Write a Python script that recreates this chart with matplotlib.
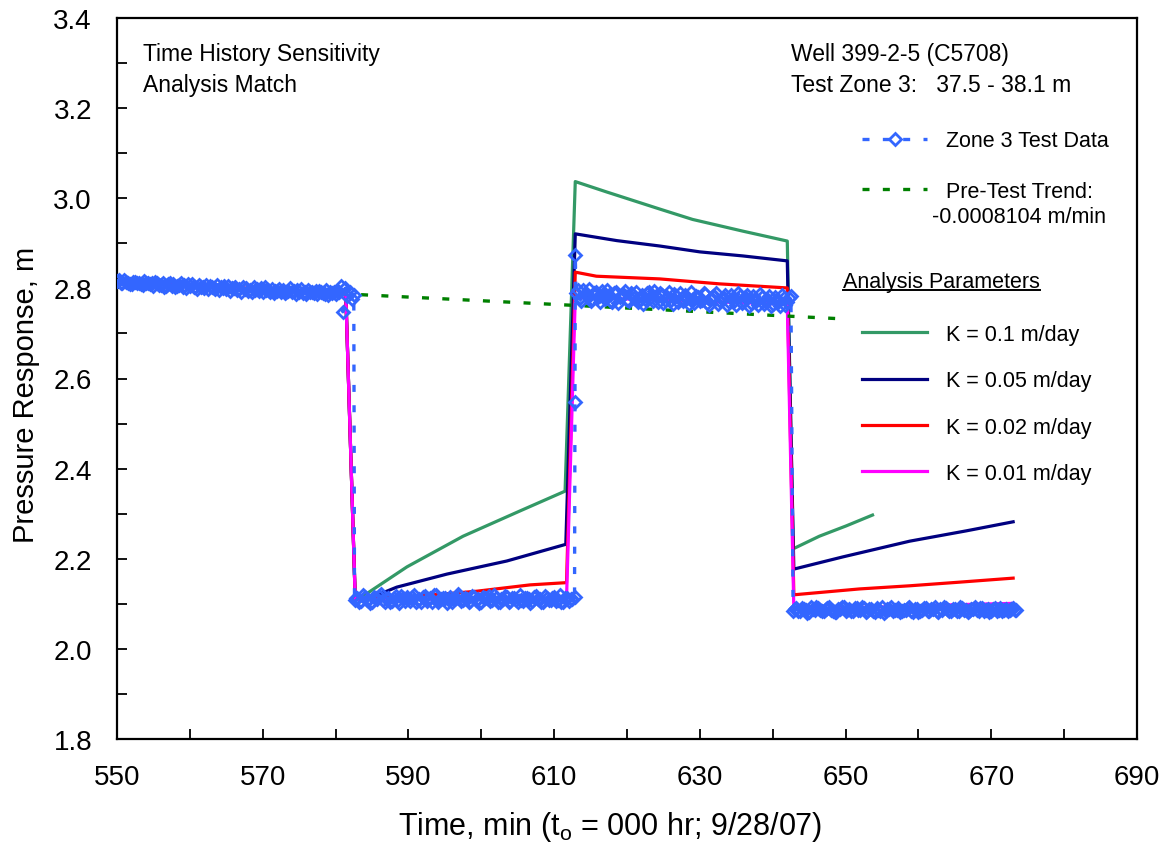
import matplotlib
matplotlib.use("Agg")
import matplotlib.pyplot as plt
from matplotlib.lines import Line2D
from matplotlib.ticker import MultipleLocator, FormatStrFormatter
import numpy as np

plt.rcParams['font.family'] = ['Liberation Sans', 'DejaVu Sans']
plt.rcParams['mathtext.fontset'] = 'custom'
plt.rcParams['mathtext.rm'] = 'Liberation Sans'

# --- Zone 3 test data (time, min ; pressure response, m) ---
pre_t = [550.0, 550.5, 551.0, 551.5, 552.0, 552.5, 553.0, 553.5, 554.0, 554.5,
         555.0, 555.5, 556.0, 556.5, 557.0, 557.5, 558.0, 558.5, 559.0, 559.5,
         560.0, 560.5, 561.0, 561.5, 562.0, 562.5, 563.0, 563.5, 564.0, 564.5,
         565.0, 565.5, 566.0, 566.5, 567.0, 567.5, 568.0, 568.5, 569.0, 569.5,
         570.0, 570.5, 571.0, 571.5, 572.0, 572.5, 573.0, 573.5, 574.0, 574.5,
         575.0, 575.5, 576.0, 576.5, 577.0, 577.5, 578.0, 578.5, 579.0, 579.5,
         580.0, 580.5, 580.8, 581.0, 581.3, 581.6, 582.0, 582.3, 582.5]
pre_p = [2.816, 2.812, 2.818, 2.813, 2.809, 2.815, 2.811, 2.807, 2.813, 2.810,
         2.806, 2.811, 2.808, 2.804, 2.809, 2.806, 2.802, 2.808, 2.804, 2.801,
         2.806, 2.803, 2.799, 2.804, 2.801, 2.798, 2.803, 2.799, 2.796, 2.801,
         2.798, 2.795, 2.800, 2.797, 2.793, 2.798, 2.795, 2.792, 2.797, 2.794,
         2.791, 2.796, 2.793, 2.790, 2.795, 2.792, 2.789, 2.794, 2.791, 2.788,
         2.793, 2.790, 2.788, 2.792, 2.789, 2.787, 2.791, 2.788, 2.786, 2.790,
         2.787, 2.791, 2.805, 2.748, 2.800, 2.783, 2.792, 2.776, 2.786]
pre_tb = [550.25, 550.75, 551.25, 551.75, 552.25, 552.75, 553.25, 553.75, 554.25, 554.75,
          555.25, 555.75, 556.25, 556.75, 557.25, 557.75, 558.25, 558.75, 559.25, 559.75,
          560.25, 560.75, 561.25, 561.75, 562.25, 562.75, 563.25, 563.75, 564.25, 564.75,
          565.25, 565.75, 566.25, 566.75, 567.25, 567.75, 568.25, 568.75, 569.25, 569.75,
          570.25, 570.75, 571.25, 571.75, 572.25, 572.75, 573.25, 573.75, 574.25, 574.75,
          575.25, 575.75, 576.25, 576.75, 577.25, 577.75, 578.25, 578.75, 579.25, 579.75,
          580.25]
pre_pb = [2.818, 2.812, 2.815, 2.810, 2.815, 2.813, 2.809, 2.816, 2.811, 2.813,
          2.814, 2.808, 2.811, 2.806, 2.811, 2.809, 2.805, 2.812, 2.807, 2.809,
          2.810, 2.804, 2.807, 2.802, 2.807, 2.805, 2.801, 2.808, 2.803, 2.805,
          2.806, 2.800, 2.803, 2.798, 2.803, 2.801, 2.797, 2.804, 2.799, 2.801,
          2.802, 2.796, 2.799, 2.794, 2.799, 2.797, 2.793, 2.800, 2.795, 2.797,
          2.798, 2.792, 2.797, 2.791, 2.795, 2.794, 2.790, 2.796, 2.791, 2.793,
          2.794]

ext1_t = [582.6, 583.0, 583.5, 584.0, 584.5, 585.0, 585.5, 586.0, 586.5, 587.0,
          587.5, 588.0, 588.5, 589.0, 589.5, 590.0, 590.5, 591.0, 591.5, 592.0,
          592.5, 593.0, 593.5, 594.0, 594.5, 595.0, 595.5, 596.0, 596.5, 597.0,
          597.5, 598.0, 598.5, 599.0, 599.5, 600.0, 600.5, 601.0, 601.5, 602.0,
          602.5, 603.0, 603.5, 604.0, 604.5, 605.0, 605.5, 606.0, 606.5, 607.0,
          607.5, 608.0, 608.5, 609.0, 609.5, 610.0, 610.5, 611.0, 611.5, 612.0,
          612.5, 612.8]
ext1_p = [2.108, 2.112, 2.106, 2.115, 2.109, 2.104, 2.113, 2.117, 2.108, 2.111,
          2.103, 2.114, 2.109, 2.118, 2.106, 2.111, 2.115, 2.104, 2.110, 2.116,
          2.107, 2.112, 2.119, 2.105, 2.110, 2.114, 2.108, 2.103, 2.113, 2.117,
          2.109, 2.111, 2.106, 2.115, 2.110, 2.104, 2.112, 2.118, 2.108, 2.113,
          2.105, 2.110, 2.116, 2.107, 2.112, 2.103, 2.109, 2.114, 2.111, 2.106,
          2.117, 2.110, 2.104, 2.113, 2.108, 2.115, 2.109, 2.105, 2.112, 2.107,
          2.111, 2.116]
ext1_tb = [582.75, 583.25, 583.75, 584.25, 584.75, 585.25, 585.75, 586.25, 586.75, 587.25,
           587.75, 588.25, 588.75, 589.25, 589.75, 590.25, 590.75, 591.25, 591.75, 592.25,
           592.75, 593.25, 593.75, 594.25, 594.75, 595.25, 595.75, 596.25, 596.75, 597.25,
           597.75, 598.25, 598.75, 599.25, 599.75, 600.25, 600.75, 601.25, 601.75, 602.25,
           602.75, 603.25, 603.75, 604.25, 604.75, 605.25, 605.75, 606.25, 606.75, 607.25,
           607.75, 608.25, 608.75, 609.25, 609.75, 610.25, 610.75, 611.25, 611.75, 612.25]
ext1_pb = [2.114, 2.105, 2.119, 2.108, 2.102, 2.116, 2.110, 2.121, 2.104, 2.113,
           2.107, 2.118, 2.101, 2.112, 2.115, 2.106, 2.120, 2.109, 2.103, 2.117,
           2.111, 2.105, 2.119, 2.108, 2.114, 2.102, 2.116, 2.110, 2.121, 2.106,
           2.113, 2.104, 2.118, 2.109, 2.101, 2.115, 2.112, 2.107, 2.120, 2.105,
           2.111, 2.117, 2.103, 2.114, 2.108, 2.119, 2.106, 2.112, 2.102, 2.116,
           2.110, 2.104, 2.118, 2.109, 2.113, 2.107, 2.120, 2.105, 2.114, 2.111]

rec1_t = [612.85, 612.9, 613.0, 613.5, 614.0, 614.5, 615.0, 615.5, 616.0, 616.5,
          617.0, 617.5, 618.0, 618.5, 619.0, 619.5, 620.0, 620.5, 621.0, 621.5,
          622.0, 622.5, 623.0, 623.5, 624.0, 624.5, 625.0, 625.5, 626.0, 626.5,
          627.0, 627.5, 628.0, 628.5, 629.0, 629.5, 630.0, 630.5, 631.0, 631.5,
          632.0, 632.5, 633.0, 633.5, 634.0, 634.5, 635.0, 635.5, 636.0, 636.5,
          637.0, 637.5, 638.0, 638.5, 639.0, 639.5, 640.0, 640.5, 641.0, 641.5,
          642.0, 642.5]
rec1_p = [2.548, 2.874, 2.790, 2.778, 2.796, 2.784, 2.772, 2.789, 2.781, 2.794,
          2.776, 2.785, 2.770, 2.792, 2.780, 2.787, 2.774, 2.790, 2.779, 2.769,
          2.786, 2.777, 2.791, 2.772, 2.783, 2.789, 2.768, 2.781, 2.775, 2.788,
          2.770, 2.779, 2.786, 2.766, 2.777, 2.784, 2.772, 2.789, 2.768, 2.778,
          2.783, 2.765, 2.776, 2.786, 2.770, 2.779, 2.764, 2.782, 2.773, 2.785,
          2.767, 2.777, 2.762, 2.780, 2.771, 2.784, 2.766, 2.775, 2.760, 2.778,
          2.769, 2.783]
rec1_tb = [613.25, 613.75, 614.25, 614.75, 615.25, 615.75, 616.25, 616.75, 617.25, 617.75,
           618.25, 618.75, 619.25, 619.75, 620.25, 620.75, 621.25, 621.75, 622.25, 622.75,
           623.25, 623.75, 624.25, 624.75, 625.25, 625.75, 626.25, 626.75, 627.25, 627.75,
           628.25, 628.75, 629.25, 629.75, 630.25, 630.75, 631.25, 631.75, 632.25, 632.75,
           633.25, 633.75, 634.25, 634.75, 635.25, 635.75, 636.25, 636.75, 637.25, 637.75,
           638.25, 638.75, 639.25, 639.75, 640.25, 640.75, 641.25, 641.75, 642.25]
rec1_pb = [2.797, 2.771, 2.788, 2.799, 2.776, 2.792, 2.769, 2.785, 2.796, 2.773,
           2.790, 2.767, 2.782, 2.795, 2.771, 2.787, 2.793, 2.776, 2.766, 2.789,
           2.780, 2.794, 2.770, 2.785, 2.775, 2.792, 2.765, 2.782, 2.789, 2.772,
           2.779, 2.791, 2.767, 2.781, 2.774, 2.787, 2.764, 2.783, 2.790, 2.771,
           2.778, 2.762, 2.785, 2.773, 2.789, 2.768, 2.780, 2.761, 2.784, 2.772,
           2.787, 2.766, 2.776, 2.760, 2.781, 2.770, 2.785, 2.764, 2.779]

ext2_t = [642.8, 643.0, 643.5, 644.0, 644.5, 645.0, 645.5, 646.0, 646.5, 647.0,
          647.5, 648.0, 648.5, 649.0, 649.5, 650.0, 650.5, 651.0, 651.5, 652.0,
          652.5, 653.0, 653.5, 654.0, 654.5, 655.0, 655.5, 656.0, 656.5, 657.0,
          657.5, 658.0, 658.5, 659.0, 659.5, 660.0, 660.5, 661.0, 661.5, 662.0,
          662.5, 663.0, 663.5, 664.0, 664.5, 665.0, 665.5, 666.0, 666.5, 667.0,
          667.5, 668.0, 668.5, 669.0, 669.5, 670.0, 670.5, 671.0, 671.5, 672.0,
          672.5, 673.0, 673.4]
ext2_p = [2.083, 2.089, 2.085, 2.091, 2.086, 2.082, 2.088, 2.093, 2.087, 2.084,
          2.090, 2.086, 2.081, 2.089, 2.092, 2.085, 2.088, 2.083, 2.090, 2.086,
          2.091, 2.084, 2.088, 2.082, 2.087, 2.092, 2.085, 2.089, 2.083, 2.087,
          2.081, 2.086, 2.090, 2.084, 2.088, 2.082, 2.087, 2.091, 2.085, 2.089,
          2.083, 2.088, 2.092, 2.086, 2.084, 2.089, 2.085, 2.091, 2.087, 2.083,
          2.088, 2.086, 2.090, 2.084, 2.089, 2.085, 2.091, 2.087, 2.083, 2.088,
          2.086, 2.090, 2.087]
ext2_tb = [643.25, 643.75, 644.25, 644.75, 645.25, 645.75, 646.25, 646.75, 647.25, 647.75,
           648.25, 648.75, 649.25, 649.75, 650.25, 650.75, 651.25, 651.75, 652.25, 652.75,
           653.25, 653.75, 654.25, 654.75, 655.25, 655.75, 656.25, 656.75, 657.25, 657.75,
           658.25, 658.75, 659.25, 659.75, 660.25, 660.75, 661.25, 661.75, 662.25, 662.75,
           663.25, 663.75, 664.25, 664.75, 665.25, 665.75, 666.25, 666.75, 667.25, 667.75,
           668.25, 668.75, 669.25, 669.75, 670.25, 670.75, 671.25, 671.75, 672.25, 672.75,
           673.25]
ext2_pb = [2.091, 2.084, 2.088, 2.080, 2.093, 2.086, 2.090, 2.083, 2.089, 2.094,
           2.085, 2.081, 2.088, 2.092, 2.086, 2.083, 2.090, 2.087, 2.093, 2.082,
           2.089, 2.085, 2.091, 2.084, 2.080, 2.088, 2.093, 2.086, 2.090, 2.083,
           2.087, 2.092, 2.081, 2.089, 2.085, 2.091, 2.084, 2.088, 2.094, 2.082,
           2.086, 2.090, 2.083, 2.089, 2.085, 2.092, 2.087, 2.081, 2.088, 2.093,
           2.084, 2.090, 2.086, 2.082, 2.089, 2.085, 2.091, 2.087, 2.083, 2.088,
           2.086]

# --- pre-test trend (-0.0008104 m/min) ---
trend_t = [583.5, 650.0]
trend_p = [2.786, 2.732]

# --- simulated responses for each K ---
k01_t = [550.0, 581.4, 582.7, 584.5, 589.8, 597.5, 605.3, 611.5, 612.9, 617.2,
         624.5, 629.0, 635.9, 642.0, 642.8, 646.4, 650.1, 653.7]
k01_p = [2.814, 2.789, 2.110, 2.125, 2.182, 2.250, 2.306, 2.350, 3.037, 3.014,
         2.976, 2.953, 2.927, 2.905, 2.222, 2.250, 2.273, 2.297]

k005_t = [550.0, 581.4, 582.7, 585.5, 588.4, 595.3, 603.5, 611.6, 612.9, 618.6,
          624.5, 630.0, 635.9, 642.0, 642.9, 649.6, 658.8, 666.6, 673.0]
k005_p = [2.814, 2.789, 2.110, 2.118, 2.137, 2.166, 2.195, 2.232, 2.921, 2.906,
          2.894, 2.881, 2.872, 2.861, 2.177, 2.204, 2.239, 2.262, 2.282]

k002_t = [550.0, 581.4, 582.7, 590.0, 595.0, 599.4, 606.7, 611.7, 612.9, 615.8,
          624.5, 632.7, 642.0, 642.9, 651.9, 658.8, 665.6, 673.0]
k002_p = [2.814, 2.789, 2.110, 2.116, 2.122, 2.128, 2.142, 2.147, 2.836, 2.827,
          2.821, 2.810, 2.801, 2.120, 2.133, 2.140, 2.148, 2.157]

k001_t = [550.0, 581.4, 582.7, 611.7, 612.9, 642.0, 642.9, 655.0, 665.0, 673.0]
k001_p = [2.814, 2.789, 2.110, 2.111, 2.780, 2.765, 2.088, 2.093, 2.098, 2.101]

models = [
    ("K = 0.1 m/day", k01_t, k01_p, "#339966"),
    ("K = 0.05 m/day", k005_t, k005_p, "#000080"),
    ("K = 0.02 m/day", k002_t, k002_p, "#FF0000"),
    ("K = 0.01 m/day", k001_t, k001_p, "#FF00FF"),
]

data_t = np.concatenate([pre_t, pre_tb, ext1_t, ext1_tb, rec1_t, rec1_tb, ext2_t, ext2_tb])
data_p = np.concatenate([pre_p, pre_pb, ext1_p, ext1_pb, rec1_p, rec1_pb, ext2_p, ext2_pb])
order = np.argsort(data_t, kind="stable")
data_t, data_p = data_t[order], data_p[order]

BLUE = "#3366FF"
DASH = (2.1, 4.0)

fig = plt.figure(figsize=(11.67, 8.45), dpi=100)
ax = fig.add_axes([117 / 1167, 1 - 740 / 845, 1020 / 1167, 721 / 845])

model_handles = []
for label, t, p, c in models:
    h, = ax.plot(t, p, color=c, lw=2.3, label=label, zorder=2)
    model_handles.append(h)

h_trend, = ax.plot(trend_t, trend_p, color="#008000", lw=2.4, dashes=DASH, zorder=3)
h_data, = ax.plot(data_t, data_p, color=BLUE, lw=2.4, dashes=DASH, marker="D",
                  ms=6.6, mfc="none", mec=BLUE, mew=2.0, zorder=4)

ax.set_xlim(550, 690)
ax.set_ylim(1.8, 3.4)
ax.xaxis.set_major_locator(MultipleLocator(20, offset=10))
ax.xaxis.set_minor_locator(MultipleLocator(10))
ax.yaxis.set_major_locator(MultipleLocator(0.2))
ax.yaxis.set_minor_locator(MultipleLocator(0.1))
ax.yaxis.set_major_formatter(FormatStrFormatter("%.1f"))
ax.tick_params(which="both", direction="in", length=7, width=1.3, top=False, right=False)
ax.tick_params(which="major", labelsize=20, pad=18)
for s in ax.spines.values():
    s.set_linewidth(1.6)

ax.set_xlabel("Time, min (t$_\\mathrm{o}$ = 000 hr; 9/28/07)", fontsize=22)
ax.set_ylabel("Pressure Response, m", fontsize=21)
ax.xaxis.set_label_coords(0.483, -0.097)
ax.yaxis.set_label_coords(-0.075, 0.478)

ax.text(0.0255, 0.967, "Time History Sensitivity\nAnalysis Match", transform=ax.transAxes,
        ha="left", va="top", fontsize=16.5, linespacing=1.48)
ax.text(0.661, 0.967, "Well 399-2-5 (C5708)\nTest Zone 3:   37.5 - 38.1 m",
        transform=ax.transAxes, ha="left", va="top", fontsize=16.5, linespacing=1.48)

leg_kw = dict(loc="upper left", bbox_transform=ax.transAxes, frameon=False, borderpad=0,
              borderaxespad=0, handlelength=3.06, handletextpad=0.86, fontsize=15.5)
leg1 = ax.legend([h_data, h_trend], ["Zone 3 Test Data", "Pre-Test Trend:"],
                 bbox_to_anchor=(0.730, 0.844), labelspacing=1.35, numpoints=1, **leg_kw)
ax.add_artist(leg1)
ax.legend(model_handles, [m[0] for m in models], bbox_to_anchor=(0.730, 0.576),
          labelspacing=1.18, **leg_kw)

title = ax.text(0.712, 0.634, "Analysis Parameters", transform=ax.transAxes,
                ha="left", va="center", fontsize=15.5)

# second line of the trend label, centred under "Pre-Test Trend:"
fig.canvas.draw()
inv = fig.transFigure.inverted()
tb = leg1.get_texts()[1].get_window_extent().transformed(inv)
fig.text((tb.x0 + tb.x1) / 2, tb.y0 - 0.005, "-0.0008104 m/min", ha="center", va="top",
         fontsize=15.5)
bb = title.get_window_extent().transformed(inv)
fig.add_artist(Line2D([bb.x0, bb.x1], [bb.y0 + 0.003, bb.y0 + 0.003], color="black",
                      lw=1.4, transform=fig.transFigure))

fig.savefig("out.png", dpi=100)
